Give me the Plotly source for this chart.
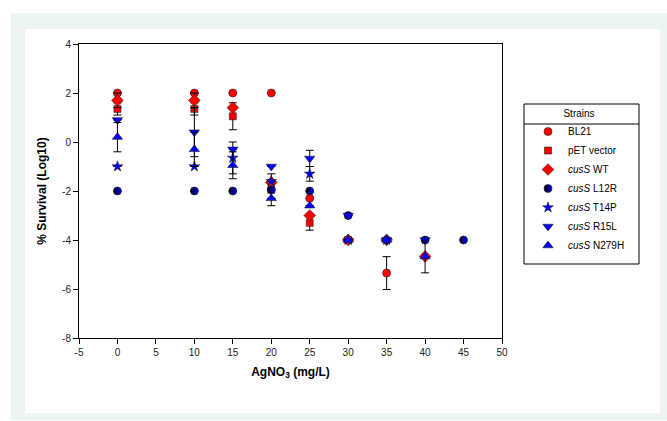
import plotly.graph_objects as go

# AgNO3 concentrations (mg/L)
agno3 = [0, 10, 15, 20, 25, 30, 35, 40, 45]

# % survival (log10) per strain, with error bar half-widths
bl21 = [2.0, 2.0, 2.0, 2.0, -2.3, -4.0, -5.35, None, None]
bl21_err = [0, 0, 0, 0, 0, 0, 0.67, 0, 0]

pet_vector = [1.35, 1.35, 1.05, -1.95, -3.3, -4.0, None, None, None]
pet_vector_err = [0.25, 0.25, 0.55, 0.65, 0.3, 0, 0, 0, 0]

cuss_wt = [1.7, 1.7, 1.4, -1.65, -3.0, -4.0, -4.0, -4.67, None]
cuss_wt_err = [0.3, 0.3, 0, 0, 0, 0, 0, 0, 0]

cuss_l12r = [-2.0, -2.0, -2.0, -1.95, -2.0, -3.0, -4.0, -4.0, -4.0]
cuss_l12r_err = [0, 0, 0, 0, 0, 0, 0, 0, 0]

cuss_t14p = [-1.0, -1.0, -0.65, -1.6, -1.3, -4.0, -4.0, None, None]
cuss_t14p_err = [0, 0, 0.65, 0, 0.3, 0, 0, 0, 0]

cuss_r15l = [0.9, 0.4, -0.3, -1.0, -0.67, -3.0, -4.0, -4.0, None]
cuss_r15l_err = [0, 1.0, 0, 0, 0.33, 0, 0, 0, 0]

cuss_n279h = [0.2, -0.3, -0.95, -2.3, -2.6, -4.0, -4.0, -4.67, None]
cuss_n279h_err = [0.6, 0.7, 0.55, 0, 0, 0, 0, 0.67, 0]

strain_names = ["BL21", "pET vector", "<i>cusS</i> WT", "<i>cusS</i> L12R",
                "<i>cusS</i> T14P", "<i>cusS</i> R15L", "<i>cusS</i> N279H"]

# tick labels (plain hyphen minus)
x_ticks = [-5, 0, 5, 10, 15, 20, 25, 30, 35, 40, 45, 50]
x_ticklabels = ["-5", "0", "5", "10", "15", "20", "25", "30", "35", "40", "45", "50"]
y_ticks = [-8, -6, -4, -2, 0, 2, 4]
y_ticklabels = ["-8", "-6", "-4", "-2", "0", "2", "4"]

series = [
    (bl21, bl21_err, dict(symbol="circle", size=8, color="#ff0000")),
    (pet_vector, pet_vector_err, dict(symbol="square", size=7, color="#ff0000")),
    (cuss_wt, cuss_wt_err, dict(symbol="diamond", size=9, color="#ff0000")),
    (cuss_l12r, cuss_l12r_err, dict(symbol="circle", size=8, color="#000000",
                                    gradient=dict(type="horizontal", color="#0000ff"))),
    (cuss_t14p, cuss_t14p_err, dict(symbol="star", size=8, color="#0000ff")),
    (cuss_r15l, cuss_r15l_err, dict(symbol="triangle-down", size=9, color="#0000ff")),
    (cuss_n279h, cuss_n279h_err, dict(symbol="triangle-up", size=9, color="#0000ff")),
]

FONT = "Liberation Sans, Arial, sans-serif"

fig = go.Figure()
for name, (vals, errs, mk) in zip(strain_names, series):
    mk = dict(mk)
    mk["line"] = dict(color="#202020", width=0.6)
    fig.add_trace(go.Scatter(
        x=agno3, y=vals, name=name, mode="markers",
        marker=mk,
        error_y=dict(type="data", array=errs, visible=True,
                     color="#000000", thickness=1, width=4),
    ))

# page geometry (pixels)
W, H = 667, 421
ML, MR, MT, MB = 79, 165, 44, 83
PW, PH = W - ML - MR, H - MT - MB


def px_x(p):
    return (p - ML) / PW


def px_y(p):
    return (H - MB - p) / PH


# legend frame (pixels)
LEG_L, LEG_R, LEG_T, LEG_B, LEG_RULE = 524, 639, 104, 264, 124

shapes = [
    # mint frame around the figure
    dict(type="rect", xref="paper", yref="paper", layer="below",
         x0=px_x(11), x1=px_x(667), y0=px_y(420), y1=px_y(13),
         fillcolor="#edf5f0", line=dict(width=0)),
    dict(type="rect", xref="paper", yref="paper", layer="below",
         x0=px_x(25), x1=px_x(660), y0=px_y(413), y1=px_y(29),
         fillcolor="#ffffff", line=dict(width=0)),
    # legend box and the rule under its title
    dict(type="rect", xref="paper", yref="paper", layer="below",
         x0=px_x(LEG_L), x1=px_x(LEG_R), y0=px_y(LEG_B), y1=px_y(LEG_T),
         fillcolor="#ffffff", line=dict(color="#000000", width=1)),
    dict(type="line", xref="paper", yref="paper",
         x0=px_x(LEG_L), x1=px_x(LEG_R), y0=px_y(LEG_RULE), y1=px_y(LEG_RULE),
         line=dict(color="#000000", width=1)),
]

axis_common = dict(
    showgrid=False, zeroline=False, showline=True, linecolor="#000000",
    linewidth=1, mirror=True, ticks="outside", ticklen=5, tickwidth=1,
    tickcolor="#000000", tickfont=dict(family=FONT, size=10, color="#222222"),
)

fig.update_layout(
    width=W, height=H,
    margin=dict(l=ML, r=MR, t=MT, b=MB, pad=0),
    paper_bgcolor="#ffffff", plot_bgcolor="#ffffff",
    font=dict(family=FONT, color="#000000"),
    showlegend=True,
    legend=dict(
        x=px_x(LEG_L + 4), y=px_y(LEG_T), xanchor="left", yanchor="top",
        bgcolor="rgba(0,0,0,0)", borderwidth=0,
        font=dict(family=FONT, size=10, color="#000000"),
        title=dict(text="Strains", side="top center",
                   font=dict(family=FONT, size=10, color="#000000")),
        tracegroupgap=0,
    ),
    xaxis=dict(range=[-5, 50], tickvals=x_ticks, ticktext=x_ticklabels,
               title=dict(text="<b>AgNO<sub>3</sub> (mg/L)</b>",
                          font=dict(family=FONT, size=12), standoff=10),
               **axis_common),
    yaxis=dict(range=[-8, 4], tickvals=y_ticks, ticktext=y_ticklabels,
               title=dict(text="<b>% Survival (Log10)</b>",
                          font=dict(family=FONT, size=12), standoff=12),
               **axis_common),
    shapes=shapes,
)

fig.write_html("out.html")
